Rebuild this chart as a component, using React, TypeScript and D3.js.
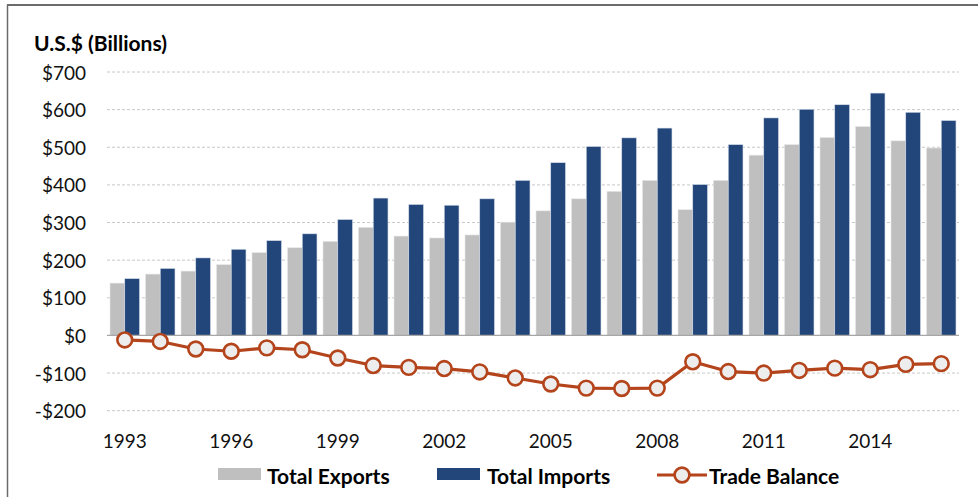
import React from "react";
import * as d3 from "d3";

const years = d3.range(1993, 2017).map(String);
const exportsData = [139, 163, 171, 188, 220, 233, 250, 287, 264, 259, 267, 301, 331, 363, 383, 412, 334, 412, 479, 507, 526, 555, 517, 498];
const importsData = [151, 178, 206, 229, 252, 270, 308, 365, 348, 346, 363, 412, 459, 502, 525, 551, 401, 507, 578, 601, 613, 644, 593, 571];
const balanceData = [-12, -16, -36, -42, -33, -38, -60, -80, -85, -88, -97, -113, -129, -140, -141, -140, -70, -96, -100, -93, -87, -91, -77, -75];
const yTicks = [700, 600, 500, 400, 300, 200, 100, 0, -100, -200];
const xTickYears = ["1993", "1996", "1999", "2002", "2005", "2008", "2011", "2014"];

const W = 978;
const H = 497;
const FONT = "Lato, 'Open Sans', sans-serif";
const GRAY = "#BFBFBF";
const BLUE = "#22457A";
const ORANGE = "#B4441B";

export default function App() {
  const x = d3.scaleBand<string>().domain(years).range([107, 959]).paddingInner(0).paddingOuter(0);
  const y = d3.scaleLinear().domain([-200, 700]).range([410.7, 72]);
  const bw = x.bandwidth();
  const barW = bw * 0.415;
  const inner = d3.scaleBand<string>().domain(["e", "i"]).range([bw / 2 - barW, bw / 2 + barW]);
  const cx = (yr: string) => (x(yr) as number) + bw / 2;
  const line = d3
    .line<number>()
    .x((_, i) => cx(years[i]))
    .y((d) => y(d));

  return (
    <svg width={W} height={H} style={{ position: "absolute", left: 0, top: 0, background: "#fff" }} fontFamily={FONT}>
      <rect x={0} y={0} width={W} height={H} fill="#fff" />
      <line x1={7} x2={W} y1={5} y2={5} stroke="#6b6b6b" strokeWidth={2} />
      <line x1={7.5} x2={7.5} y1={5} y2={H} stroke="#6b6b6b" strokeWidth={1.5} />
      <text x={34} y={51} fontSize={21} fontWeight={700} fill="#000">U.S.$ (Billions)</text>
      {yTicks.map((t) => (
        <g key={t}>
          {t !== 0 && (
            <line x1={107} x2={959} y1={y(t)} y2={y(t)} stroke="#c8c8c8" strokeWidth={1} strokeDasharray="3,2" />
          )}
          <text x={86} y={y(t)} fontSize={19} textAnchor="end" dominantBaseline="central" fill="#111">
            {t < 0 ? `-$${-t}` : `$${t}`}
          </text>
        </g>
      ))}
      {years.map((yr, i) => (
        <g key={yr}>
          <rect
            x={(x(yr) as number) + (inner("e") as number)}
            y={y(exportsData[i])}
            width={inner.bandwidth()}
            height={y(0) - y(exportsData[i])}
            fill={GRAY}
            stroke="#e6e6e6"
            strokeWidth={0.6}
          />
          <rect
            x={(x(yr) as number) + (inner("i") as number)}
            y={y(importsData[i])}
            width={inner.bandwidth()}
            height={y(0) - y(importsData[i])}
            fill={BLUE}
            stroke="#d5dcea"
            strokeWidth={0.6}
          />
        </g>
      ))}
      <line x1={107} x2={959} y1={y(0)} y2={y(0)} stroke="#a6a6a6" strokeWidth={1.2} />
      <path d={line(balanceData) || ""} fill="none" stroke={ORANGE} strokeWidth={3.2} strokeLinejoin="round" />
      {balanceData.map((d, i) => (
        <circle key={i} cx={cx(years[i])} cy={y(d)} r={7.4} fill="#EDEDED" stroke={ORANGE} strokeWidth={2.6} />
      ))}
      {xTickYears.map((yr) => (
        <text key={yr} x={cx(yr)} y={440} fontSize={19} textAnchor="middle" dominantBaseline="central" fill="#111">
          {yr}
        </text>
      ))}
      <g>
        <rect x={218} y={468} width={43} height={12} fill={GRAY} />
        <text x={267} y={475} fontSize={21} fontWeight={700} dominantBaseline="central" fill="#000">Total Exports</text>
        <rect x={437} y={468} width={43} height={12} fill={BLUE} />
        <text x={487} y={475} fontSize={21} fontWeight={700} dominantBaseline="central" fill="#000">Total Imports</text>
        <line x1={657} x2={707} y1={475} y2={475} stroke={ORANGE} strokeWidth={3.2} />
        <circle cx={682} cy={475} r={7.4} fill="#EDEDED" stroke={ORANGE} strokeWidth={2.6} />
        <text x={709} y={475} fontSize={21} fontWeight={700} dominantBaseline="central" fill="#000">Trade Balance</text>
      </g>
    </svg>
  );
}
